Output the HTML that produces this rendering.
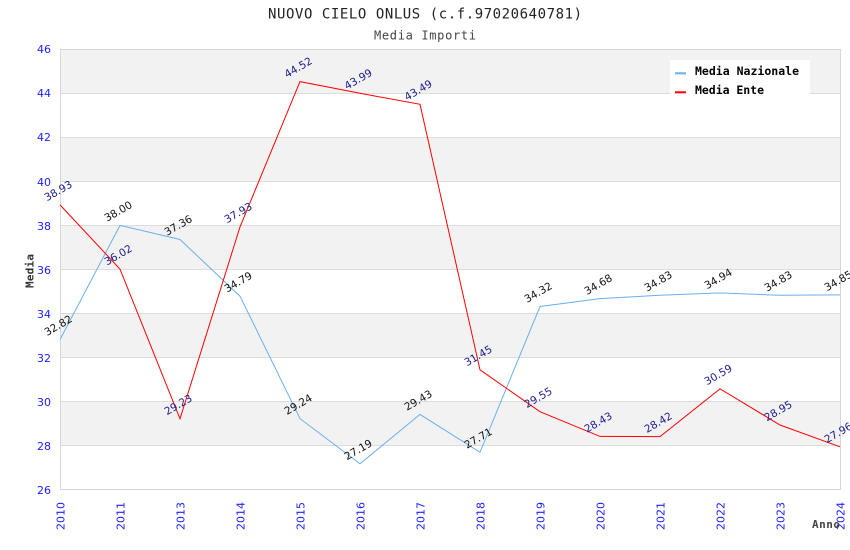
<!DOCTYPE html>
<html><head><meta charset="utf-8"><style>
html,body{margin:0;padding:0;background:#fff;width:850px;height:550px;overflow:hidden}
svg{display:block}
.tk{font-family:"DejaVu Sans","Liberation Sans",sans-serif;font-size:11px;fill:#2020ff}
.ln{font-family:"DejaVu Sans","Liberation Sans",sans-serif;font-size:10.5px}
.n{fill:#111}
.e{fill:#1a1a8c}
.mono{font-family:"DejaVu Sans Mono","Liberation Mono",monospace}
</style></head><body>
<svg width="850" height="550" viewBox="0 0 850 550" xmlns="http://www.w3.org/2000/svg">
<rect width="850" height="550" fill="#fff"/>
<g fill="#f2f2f2">
<rect x="60" y="49" width="780" height="44.1"/>
<rect x="60" y="137.2" width="780" height="44.1"/>
<rect x="60" y="225.4" width="780" height="44.1"/>
<rect x="60" y="313.6" width="780" height="44.1"/>
<rect x="60" y="401.8" width="780" height="44.1"/>
</g>
<g stroke="#dcdcdc" stroke-width="1">
<line x1="60" x2="840" y1="93.5" y2="93.5"/>
<line x1="60" x2="840" y1="137.5" y2="137.5"/>
<line x1="60" x2="840" y1="181.5" y2="181.5"/>
<line x1="60" x2="840" y1="225.5" y2="225.5"/>
<line x1="60" x2="840" y1="269.5" y2="269.5"/>
<line x1="60" x2="840" y1="313.5" y2="313.5"/>
<line x1="60" x2="840" y1="357.5" y2="357.5"/>
<line x1="60" x2="840" y1="401.5" y2="401.5"/>
<line x1="60" x2="840" y1="445.5" y2="445.5"/>
</g>
<rect x="60.5" y="49.5" width="780" height="440" fill="none" stroke="#d6d6d6" stroke-width="1"/>
<g class="tk" text-anchor="end">
<text x="51" y="53">46</text>
<text x="51" y="97">44</text>
<text x="51" y="141">42</text>
<text x="51" y="186">40</text>
<text x="51" y="230">38</text>
<text x="51" y="274">36</text>
<text x="51" y="318">34</text>
<text x="51" y="362">32</text>
<text x="51" y="406">30</text>
<text x="51" y="450">28</text>
<text x="51" y="494">26</text>
</g>
<g class="tk" text-anchor="end">
<text transform="translate(64.5,502) rotate(-90)">2010</text>
<text transform="translate(124.5,502) rotate(-90)">2011</text>
<text transform="translate(184.5,502) rotate(-90)">2013</text>
<text transform="translate(244.5,502) rotate(-90)">2014</text>
<text transform="translate(304.5,502) rotate(-90)">2015</text>
<text transform="translate(364.5,502) rotate(-90)">2016</text>
<text transform="translate(424.5,502) rotate(-90)">2017</text>
<text transform="translate(484.5,502) rotate(-90)">2018</text>
<text transform="translate(544.5,502) rotate(-90)">2019</text>
<text transform="translate(604.5,502) rotate(-90)">2020</text>
<text transform="translate(664.5,502) rotate(-90)">2021</text>
<text transform="translate(724.5,502) rotate(-90)">2022</text>
<text transform="translate(784.5,502) rotate(-90)">2023</text>
<text transform="translate(844.5,502) rotate(-90)">2024</text>
</g>
<text class="mono" x="268" y="18.5" font-size="14" fill="#222" textLength="314" lengthAdjust="spacing">NUOVO CIELO ONLUS (c.f.97020640781)</text>
<text class="mono" x="374" y="39.5" font-size="12" fill="#444" textLength="102" lengthAdjust="spacing">Media Importi</text>
<text class="mono" transform="translate(33.5,288) rotate(-90)" font-size="11" font-weight="bold" fill="#333" textLength="34" lengthAdjust="spacing">Media</text>
<text class="mono" x="812" y="528" font-size="11" font-weight="bold" fill="#444" textLength="28" lengthAdjust="spacing">Anno</text>
<polyline fill="none" stroke="#6aaff0" stroke-width="1" points="60,339.6 120,225.4 180,239.5 240,296.2 300,418.6 360,463.8 420,414.4 480,452.3 540,306.5 600,298.6 660,295.3 720,292.9 780,295.3 840,294.9"/>
<polyline fill="none" stroke="#ff0000" stroke-width="1" points="60,204.9 120,269.1 180,418.8 240,226.9 300,81.6 360,93.3 420,104.3 480,369.8 540,411.7 600,436.4 660,436.6 720,388.8 780,425.0 840,446.8"/>
<g class="ln n" text-anchor="middle">
<text transform="translate(60,328.6) rotate(-30)">32.82</text>
<text transform="translate(120,214.4) rotate(-30)">38.00</text>
<text transform="translate(180,228.5) rotate(-30)">37.36</text>
<text transform="translate(240,285.2) rotate(-30)">34.79</text>
<text transform="translate(300,407.6) rotate(-30)">29.24</text>
<text transform="translate(360,452.8) rotate(-30)">27.19</text>
<text transform="translate(420,403.4) rotate(-30)">29.43</text>
<text transform="translate(480,441.3) rotate(-30)">27.71</text>
<text transform="translate(540,295.5) rotate(-30)">34.32</text>
<text transform="translate(600,287.6) rotate(-30)">34.68</text>
<text transform="translate(660,284.3) rotate(-30)">34.83</text>
<text transform="translate(720,281.9) rotate(-30)">34.94</text>
<text transform="translate(780,284.3) rotate(-30)">34.83</text>
<text transform="translate(840,283.9) rotate(-30)">34.85</text>
</g>
<g class="ln e" text-anchor="middle">
<text transform="translate(60,193.9) rotate(-30)">38.93</text>
<text transform="translate(120,258.1) rotate(-30)">36.02</text>
<text transform="translate(180,407.8) rotate(-30)">29.23</text>
<text transform="translate(240,215.9) rotate(-30)">37.93</text>
<text transform="translate(300,70.6) rotate(-30)">44.52</text>
<text transform="translate(360,82.3) rotate(-30)">43.99</text>
<text transform="translate(420,93.3) rotate(-30)">43.49</text>
<text transform="translate(480,358.8) rotate(-30)">31.45</text>
<text transform="translate(540,400.7) rotate(-30)">29.55</text>
<text transform="translate(600,425.4) rotate(-30)">28.43</text>
<text transform="translate(660,425.6) rotate(-30)">28.42</text>
<text transform="translate(720,377.8) rotate(-30)">30.59</text>
<text transform="translate(780,414.0) rotate(-30)">28.95</text>
<text transform="translate(840,435.8) rotate(-30)">27.96</text>
</g>
<rect x="670" y="60" width="140" height="34" fill="#fff"/>
<rect x="675" y="72.3" width="11" height="2" fill="#6aaff0"/>
<rect x="675" y="91.3" width="11" height="2" fill="#ff0000"/>
<text class="mono" x="695" y="75" font-size="11.5" font-weight="bold" fill="#000" textLength="104" lengthAdjust="spacing">Media Nazionale</text>
<text class="mono" x="695" y="94" font-size="11.5" font-weight="bold" fill="#000" textLength="69" lengthAdjust="spacing">Media Ente</text>
</svg>
</body></html>
